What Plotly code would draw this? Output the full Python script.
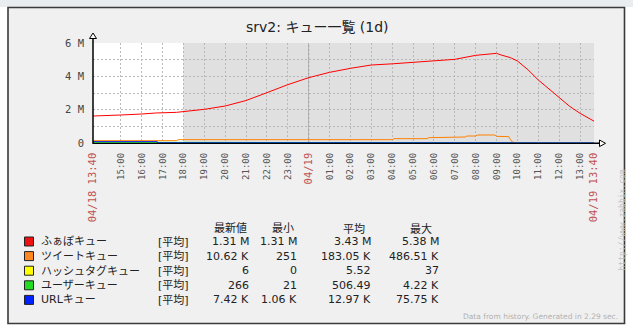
import plotly.graph_objects as go

# ---------------- data ----------------
t_start = "2013-04-18 13:40"
t_end = "2013-04-19 13:40"
t_work_end = "2013-04-18 18:00"
t_midnight = "2013-04-19 00:00"

red_time = ["2013-04-18 13:40", "2013-04-18 14:30", "2013-04-18 15:00", "2013-04-18 16:00",
            "2013-04-18 16:40", "2013-04-18 17:40", "2013-04-18 18:00", "2013-04-18 19:00",
            "2013-04-18 20:00", "2013-04-18 21:00", "2013-04-18 22:00", "2013-04-18 23:00",
            "2013-04-19 00:00", "2013-04-19 01:00", "2013-04-19 02:00", "2013-04-19 03:00",
            "2013-04-19 04:00", "2013-04-19 05:00", "2013-04-19 06:00", "2013-04-19 07:00",
            "2013-04-19 08:00", "2013-04-19 08:50", "2013-04-19 09:00", "2013-04-19 09:10",
            "2013-04-19 09:40", "2013-04-19 10:00", "2013-04-19 10:30", "2013-04-19 11:00",
            "2013-04-19 11:30", "2013-04-19 12:00", "2013-04-19 12:30", "2013-04-19 13:00",
            "2013-04-19 13:40"]
red_vals = [1.62, 1.64, 1.68, 1.74, 1.80, 1.84, 1.88, 2.02, 2.22, 2.55, 3.02, 3.50,
            3.92, 4.24, 4.48, 4.68, 4.75, 4.84, 4.92, 5.02, 5.26, 5.36, 5.38, 5.30,
            5.12, 4.92, 4.40, 3.78, 3.25, 2.72, 2.20, 1.78, 1.31]

orange_time = ["2013-04-18 13:40", "2013-04-18 17:40", "2013-04-18 17:45", "2013-04-19 04:00",
               "2013-04-19 04:05", "2013-04-19 05:40", "2013-04-19 05:45", "2013-04-19 06:50",
               "2013-04-19 06:55", "2013-04-19 07:30", "2013-04-19 07:35", "2013-04-19 08:00",
               "2013-04-19 08:05", "2013-04-19 08:55", "2013-04-19 09:00", "2013-04-19 09:35",
               "2013-04-19 09:40", "2013-04-19 09:45", "2013-04-19 09:55", "2013-04-19 13:40"]
orange_vals = [0.14, 0.14, 0.20, 0.20, 0.26, 0.26, 0.32, 0.32, 0.36, 0.36, 0.42, 0.42,
               0.48, 0.48, 0.40, 0.38, 0.20, 0.06, 0.02, 0.0106]

yellow_time = ["2013-04-18 13:40", "2013-04-19 13:40"]
yellow_vals = [0.000006, 0.000006]

green_time = ["2013-04-18 13:40", "2013-04-18 16:45", "2013-04-18 16:46", "2013-04-19 09:48",
              "2013-04-19 09:50", "2013-04-19 10:15", "2013-04-19 10:16", "2013-04-19 13:40"]
green_vals = [0.045, 0.045, 0.002, 0.002, 0.004, 0.004, 0.0003, 0.0003]

blue_time = ["2013-04-18 13:40", "2013-04-18 16:45", "2013-04-18 16:46", "2013-04-19 09:44",
             "2013-04-19 09:45", "2013-04-19 10:13", "2013-04-19 10:14", "2013-04-19 13:40"]
blue_vals = [0.076, 0.076, 0.01, 0.01, 0.04, 0.04, 0.0074, 0.0074]

tick_vals = ["2013-04-18 13:40", "2013-04-18 15:00", "2013-04-18 16:00", "2013-04-18 17:00",
             "2013-04-18 18:00", "2013-04-18 19:00", "2013-04-18 20:00", "2013-04-18 21:00",
             "2013-04-18 22:00", "2013-04-18 23:00", "2013-04-19 00:00", "2013-04-19 01:00",
             "2013-04-19 02:00", "2013-04-19 03:00", "2013-04-19 04:00", "2013-04-19 05:00",
             "2013-04-19 06:00", "2013-04-19 07:00", "2013-04-19 08:00", "2013-04-19 09:00",
             "2013-04-19 10:00", "2013-04-19 11:00", "2013-04-19 12:00", "2013-04-19 13:00",
             "2013-04-19 13:40"]
tick_text = ["04/18 13:40", "15:00", "16:00", "17:00", "18:00", "19:00", "20:00", "21:00",
             "22:00", "23:00", "04/19", "01:00", "02:00", "03:00", "04:00", "05:00", "06:00",
             "07:00", "08:00", "09:00", "10:00", "11:00", "12:00", "13:00", "04/19 13:40"]
tick_is_date = [True] + [False] * 9 + [True] + [False] * 13 + [True]

y_tick_vals = [0, 1, 2, 3, 4, 5, 6]
y_tick_text = ["0", "", "2 M", "", "4 M", "", "6 M"]

series_names = ["ふぁぼキュー", "ツイートキュー", "ハッシュタグキュー", "ユーザーキュー", "URLキュー"]
series_colors = ["#ff0000", "#ff8000", "#ffff00", "#00dd00", "#0000ee"]
legend_colors = ["#ee1111", "#ff8822", "#ffff00", "#22dd22", "#0022ff"]
col_headers = ["最新値", "最小", "平均", "最大"]
last_vals = ["1.31 M", "10.62 K", "6", "266", "7.42 K"]
min_vals = ["1.31 M", "251", "0", "21", "1.06 K"]
avg_vals = ["3.43 M", "183.05 K", "5.52", "506.49", "12.97 K"]
max_vals = ["5.38 M", "486.51 K", "37", "4.22 K", "75.75 K"]

title_text = "srv2: キュー一覧 (1d)"
footer_text = "Data from history. Generated in 2.29 sec."
watermark_text = "http://www.zabbix.com"

# ---------------- layout helpers ----------------
W, H = 633, 330
PL, PT, PW, PH = 93, 43, 501, 100


def px(x):
    return (x - PL) / PW


def py(y):
    return (PT + PH - y) / PH


FONT = "DejaVu Sans, Noto Sans CJK JP, sans-serif"
MONO = "DejaVu Sans Mono, DejaVu Sans, monospace"

fig = go.Figure()

all_times = [red_time, orange_time, yellow_time, green_time, blue_time]
all_vals = [red_vals, orange_vals, yellow_vals, green_vals, blue_vals]
for name, color, tt, vv in zip(series_names, series_colors, all_times, all_vals):
    fig.add_trace(go.Scatter(x=tt, y=[v * 1e6 for v in vv], mode="lines", name=name,
                             line=dict(color=color, width=1), showlegend=False,
                             hoverinfo="skip"))

shapes = []
# top strip
shapes.append(dict(type="rect", xref="paper", yref="paper", x0=px(0), x1=px(W), y0=py(7), y1=py(0),
                   fillcolor="#e9edf0", line=dict(width=0), layer="below"))
# panel
shapes.append(dict(type="rect", xref="paper", yref="paper", x0=px(8), x1=px(624.5), y0=py(323.5), y1=py(7.5),
                   fillcolor="#f0f0f0", line=dict(color="#3a3a3a", width=1.6), layer="below"))
# work time (white) and non-work (gray) backgrounds
shapes.append(dict(type="rect", xref="x", yref="paper", x0=t_start, x1=t_work_end, y0=0, y1=1,
                   fillcolor="#ffffff", line=dict(width=0), layer="below"))
shapes.append(dict(type="rect", xref="x", yref="paper", x0=t_work_end, x1=t_end, y0=0, y1=1,
                   fillcolor="#e0e0e0", line=dict(width=0), layer="below"))
# midnight darker grid
shapes.append(dict(type="line", xref="x", yref="paper", x0=t_midnight, x1=t_midnight, y0=0, y1=1,
                   line=dict(color="#999999", width=1, dash="2px,2px"), layer="below"))
# axes lines
shapes.append(dict(type="line", xref="paper", yref="paper", x0=px(93), x1=px(93), y0=py(143.5), y1=py(37),
                   line=dict(color="#000000", width=1.5), layer="above"))
shapes.append(dict(type="line", xref="paper", yref="paper", x0=px(92.5), x1=px(600), y0=py(143.3), y1=py(143.3),
                   line=dict(color="#000000", width=1.5), layer="below"))
# arrow heads (hollow triangles)
ya = f"M {px(93)} {py(33)} L {px(96.5)} {py(38.5)} L {px(89.5)} {py(38.5)} Z"
xa = f"M {px(605.5)} {py(143.3)} L {px(599.5)} {py(140)} L {px(599.5)} {py(146.6)} Z"
for p in (ya, xa):
    shapes.append(dict(type="path", xref="paper", yref="paper", path=p, fillcolor="#ffffff",
                       line=dict(color="#000000", width=1), layer="above"))

annotations = []
annotations.append(dict(text=title_text, xref="paper", yref="paper", x=px(317), y=py(27),
                        xanchor="center", yanchor="middle", showarrow=False,
                        font=dict(family=FONT, size=14, color="#222222")))
# legend
head_x = [230, 283, 354, 421]
for hx, ht in zip(head_x, col_headers):
    annotations.append(dict(text=ht, xref="paper", yref="paper", x=px(hx), y=py(228.5),
                            xanchor="center", yanchor="middle", showarrow=False,
                            font=dict(family=FONT, size=11, color="#222222")))
row_y0, row_dy = 241.5, 14.6
val_cols = [last_vals, min_vals, avg_vals, max_vals]
val_right = [251, 298.5, 373, 441]
for i, name in enumerate(series_names):
    ry = row_y0 + i * row_dy
    shapes.append(dict(type="rect", xref="paper", yref="paper", x0=px(24.5), x1=px(33.5),
                       y0=py(ry + 4.5), y1=py(ry - 4.5), fillcolor=legend_colors[i],
                       line=dict(color="#222222", width=1), layer="above"))
    annotations.append(dict(text=name, xref="paper", yref="paper", x=px(38.5), y=py(ry),
                            xanchor="left", yanchor="middle", showarrow=False,
                            font=dict(family=FONT, size=11, color="#222222")))
    annotations.append(dict(text="[平均]", xref="paper", yref="paper", x=px(156), y=py(ry),
                            xanchor="left", yanchor="middle", showarrow=False,
                            font=dict(family=FONT, size=11, color="#222222")))
    for col, xr in zip(val_cols, val_right):
        annotations.append(dict(text=col[i], xref="paper", yref="paper", x=px(xr), y=py(ry),
                                xanchor="right", yanchor="middle", showarrow=False,
                                font=dict(family=FONT, size=11, color="#222222")))
annotations.append(dict(text=watermark_text, xref="paper", yref="paper", x=px(621.5), y=py(220),
                        xanchor="center", yanchor="middle", textangle=-90, showarrow=False,
                        font=dict(family=MONO, size=8, color="#c0c0c0")))
annotations.append(dict(text=footer_text, xref="paper", yref="paper", x=px(619.5), y=py(316),
                        xanchor="right", yanchor="middle", showarrow=False,
                        font=dict(family=FONT, size=7.5, color="#b0b0b0")))

ticktext_fmt = []
for t, isd in zip(tick_text, tick_is_date):
    if isd:
        ticktext_fmt.append(f'<span style="color:#c05050;font-size:10.5px">{t}</span>')
    else:
        ticktext_fmt.append(t)

fig.update_layout(
    width=W, height=H,
    margin=dict(l=PL, r=W - PL - PW, t=PT, b=H - PT - PH, pad=0),
    paper_bgcolor="#ffffff",
    plot_bgcolor="rgba(0,0,0,0)",
    shapes=shapes,
    annotations=annotations,
    xaxis=dict(type="date", range=[t_start, t_end], tickmode="array", tickvals=tick_vals,
               ticktext=ticktext_fmt, tickangle=-90, showgrid=True, gridcolor="#b8b8b8",
               griddash="2px,2px", gridwidth=1, zeroline=False, showline=False, ticks="",
               ticklabelstandoff=7, tickfont=dict(family=MONO, size=9, color="#555555"),
               fixedrange=True),
    yaxis=dict(range=[0, 6e6], tickmode="array", tickvals=[v * 1e6 for v in y_tick_vals],
               ticktext=y_tick_text, showgrid=True, gridcolor="#b8b8b8", griddash="2px,2px",
               gridwidth=1, zeroline=False, showline=False, ticks="", ticklabelstandoff=8,
               tickfont=dict(family=MONO, size=10.5, color="#444444"), fixedrange=True),
)

fig.write_html("out.html")
